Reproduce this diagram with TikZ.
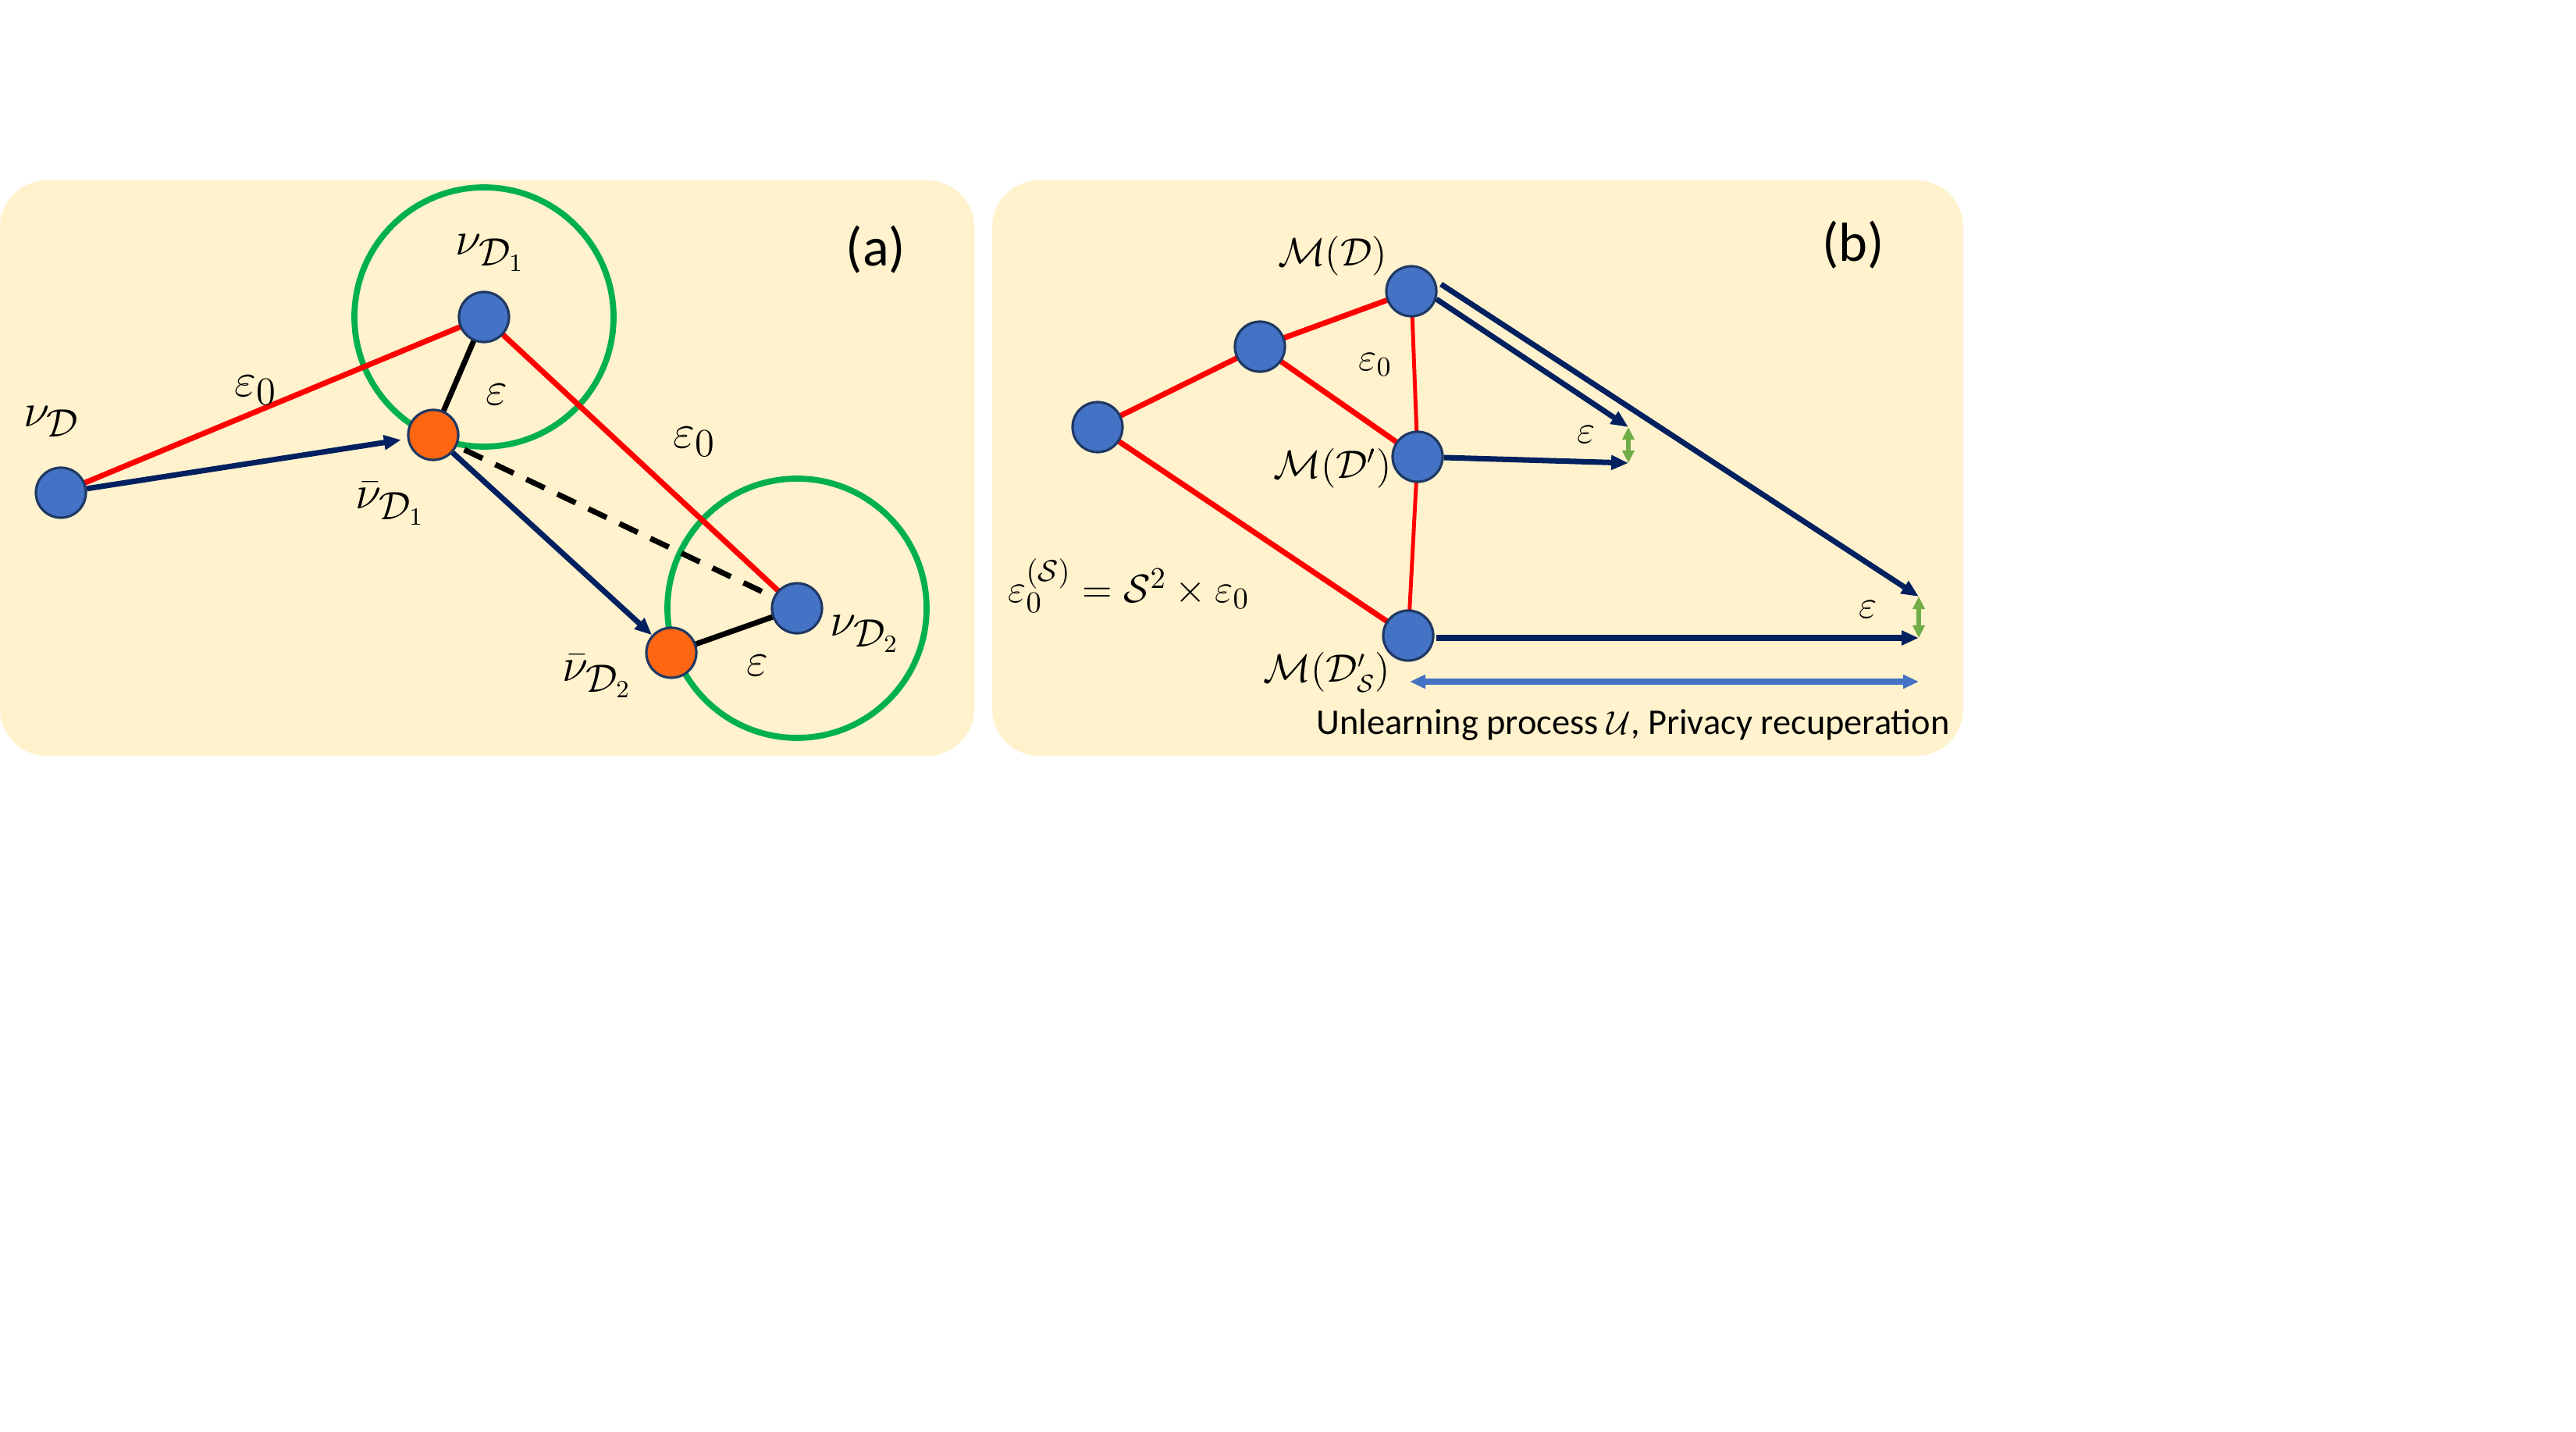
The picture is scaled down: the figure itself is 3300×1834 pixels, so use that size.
\documentclass[tikz,border=0pt]{standalone}
\usepackage{fontspec}
\newfontfamily\calibri{Carlito}
\usetikzlibrary{arrows.meta}
\definecolor{panelbg}{HTML}{FFF2CC}
\definecolor{nodeblue}{HTML}{4472C4}
\definecolor{nodeedge}{HTML}{1F3864}
\definecolor{nodeorange}{HTML}{FF6611}
\definecolor{ringgreen}{HTML}{00B050}
\definecolor{navy}{HTML}{002060}
\definecolor{lightgreen}{HTML}{70AD47}
\tikzset{
  panel/.style={fill=panelbg, rounded corners=0.6cm},
  bnode/.style={circle, fill=nodeblue, draw=nodeedge, line width=0.9pt, minimum size=0.64cm, inner sep=0pt},
  onode/.style={circle, fill=nodeorange, draw=nodeedge, line width=0.9pt, minimum size=0.64cm, inner sep=0pt},
  ring/.style={draw=ringgreen, line width=2.2pt},
  redline/.style={draw=red, line width=2pt},
  thinred/.style={draw=red, line width=1.4pt},
  blackline/.style={draw=black, line width=2pt},
  navyarrow/.style={draw=navy, line width=2pt, -{Triangle[length=0.22cm,width=0.18cm]}},
  gap/.style={draw=lightgreen, line width=1.8pt, {Triangle[length=0.16cm,width=0.15cm]}-{Triangle[length=0.16cm,width=0.15cm]}},
  span/.style={draw=nodeblue, line width=2pt, {Triangle[length=0.2cm,width=0.17cm]}-{Triangle[length=0.2cm,width=0.17cm]}},
  alabel/.style={font=\fontsize{19}{22}\selectfont, inner sep=0pt},
  blabel/.style={font=\fontsize{14}{17}\selectfont, inner sep=0pt},
  tag/.style={font=\calibri\fontsize{20}{24}\selectfont, inner sep=0pt}
}
\begin{document}
\begin{tikzpicture}[x=0.01cm,y=-0.01cm]
\useasboundingbox (0,0) rectangle (3300,1834);
\fill[white] (0,0) rectangle (3300,1834);
% panels
\path[panel] (0,231) rectangle (1248,968);
\path[panel] (1271,231) rectangle (2515,968);

% ---------- panel (a) ----------
\draw[ring] (620,406) circle (166);
\draw[ring] (1021,779) circle (166);

\coordinate (pD) at (78,631);
\coordinate (pD1) at (620,406);
\coordinate (pb1) at (555,557);
\coordinate (pb2) at (860,836);
\coordinate (pD2) at (1021,779);

\draw[redline] (pD) -- (pD1);
\draw[redline] (pD1) -- (pD2);
\draw[blackline] (pD1) -- (pb1);
\draw[blackline, dash pattern=on 0.26cm off 0.18cm] (pb1) -- (pD2);
\draw[blackline] (pb2) -- (pD2);

\node[bnode] (vD) at (pD) {};
\node[bnode] (vD1) at (pD1) {};
\node[bnode] (vD2) at (pD2) {};
\node[onode] (vb1) at (pb1) {};
\node[onode] (vb2) at (pb2) {};

\draw[navyarrow, shorten >=0.08cm] (vD) -- (vb1);
\draw[navyarrow] (vb1) -- (vb2);

\node[alabel] (lD) at (66,540) {$\nu_{\mathcal{D}}$};
\node[alabel] (le0a) at (328,500) {$\varepsilon_0$};
\node[alabel] (lD1) at (628,324) {$\nu_{\mathcal{D}_1}$};
\node[alabel] (lea) at (636,505) {$\varepsilon$};
\node[alabel] (le0b) at (890,566) {$\varepsilon_0$};
\node[alabel] (lb1) at (500,645) {$\bar{\nu}_{\mathcal{D}_1}$};
\node[alabel] (lD2) at (1108,812) {$\nu_{\mathcal{D}_2}$};
\node[alabel] (lb2) at (765,866) {$\bar{\nu}_{\mathcal{D}_2}$};
\node[alabel] (leb) at (970,852) {$\varepsilon$};
\node[tag] (ta) at (1122,320) {(a)};

% ---------- panel (b) ----------
\coordinate (qD) at (1808,373);
\coordinate (q2) at (1614,444);
\coordinate (qL) at (1406,547);
\coordinate (qDp) at (1816,585);
\coordinate (qDs) at (1804,814);

\draw[redline] (qL) -- (q2);
\draw[redline] (q2) -- (qD);
\draw[redline] (q2) -- (qDp);
\draw[redline] (qL) -- (qDs);
\draw[thinred] (qD) -- (qDp);
\draw[thinred] (qDp) -- (qDs);

\node[bnode] (MD) at (qD) {};
\node[bnode] (N2) at (q2) {};
\node[bnode] (NL) at (qL) {};
\node[bnode] (MDp) at (qDp) {};
\node[bnode] (MDs) at (qDs) {};

\coordinate (t1) at (2086,547);
\coordinate (t2) at (2086,593);
\coordinate (t3) at (2458,764);
\coordinate (t4) at (2458,817);
\coordinate (s1) at (1846,364);
\coordinate (s2) at (1840,383);
\coordinate (s4) at (1840,817);
\coordinate (u1) at (1806,873);
\coordinate (u2) at (2458,873);

\draw[navyarrow] (s1) -- (t3);
\draw[navyarrow] (s2) -- (t1);
\draw[navyarrow] (MDp) -- (t2);
\draw[navyarrow] (s4) -- (t4);
\draw[gap] (t1) -- (t2);
\draw[gap] (t3) -- (t4);
\draw[span] (u1) -- (u2);

\node[blabel] (lMD) at (1707,328) {$\mathcal{M}(\mathcal{D})$};
\node[blabel] (lMDp) at (1707,600) {$\mathcal{M}(\mathcal{D}')$};
\node[blabel, font=\fontsize{13.5}{16}\selectfont] (lMDs) at (1700,861) {$\mathcal{M}(\mathcal{D}'_{\mathcal{S}})$};
\node[blabel] (le0) at (1762,467) {$\varepsilon_0$};
\node[blabel] (le1) at (2032,557) {$\varepsilon$};
\node[blabel] (le2) at (2393,781) {$\varepsilon$};
\node[font=\fontsize{15}{18}\selectfont, inner sep=0pt] (form) at (1446,750) {$\varepsilon_0^{(\mathcal{S})} = \mathcal{S}^2\times\varepsilon_0$};
\node[font=\calibri\fontsize{13.2}{16}\selectfont, inner sep=0pt] (cap) at (2092,928) {Unlearning process $\mathcal{U}$, Privacy recuperation};
\node[tag] (tb) at (2374,314) {(b)};
\end{tikzpicture}
\end{document}
